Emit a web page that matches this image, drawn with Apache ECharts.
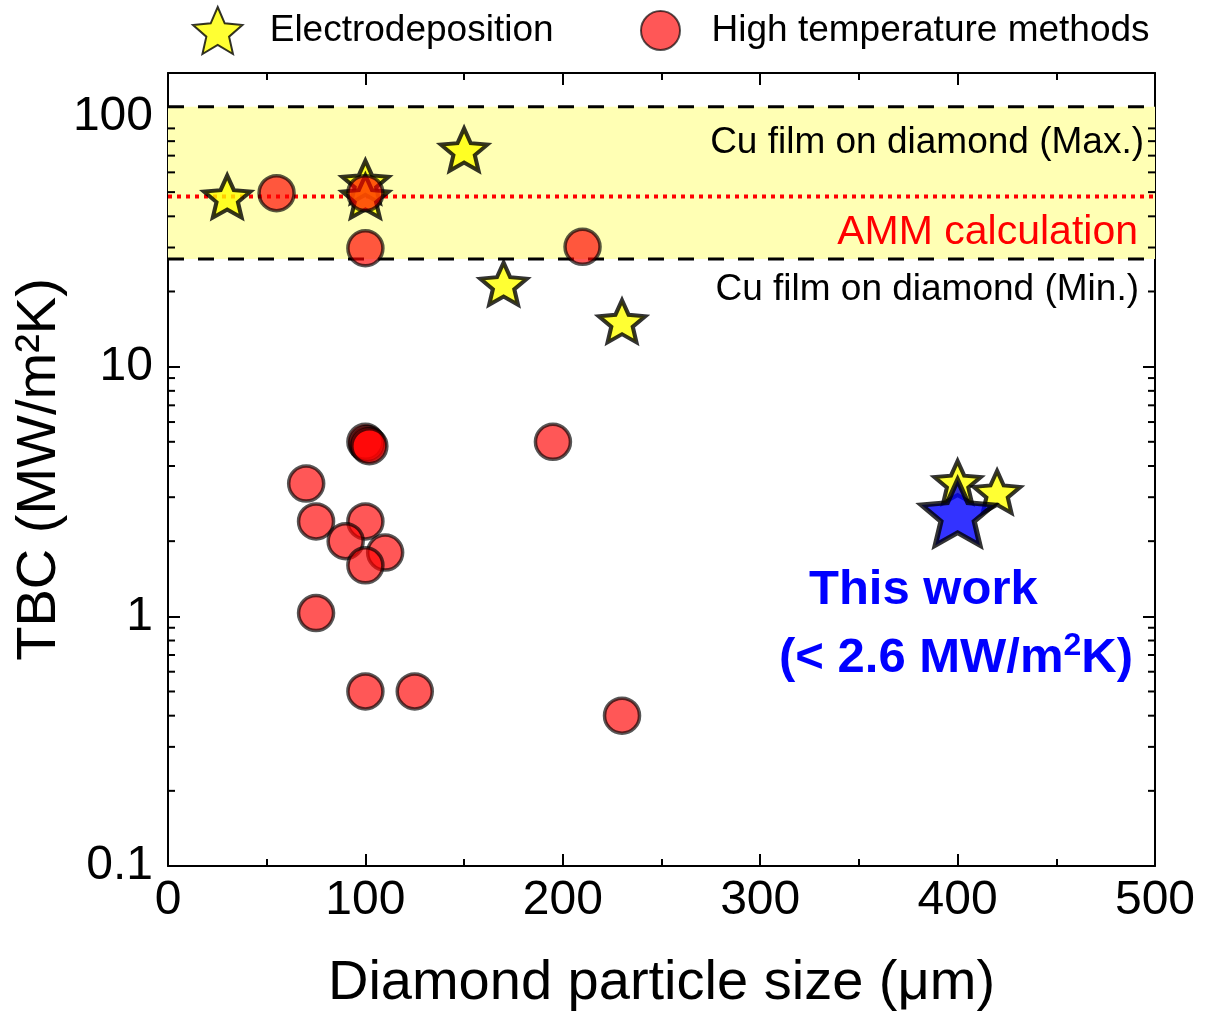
<!DOCTYPE html>
<html>
<head>
<meta charset="utf-8">
<script src="https://cdn.jsdelivr.net/npm/echarts@6/dist/echarts.min.js"></script>
<style>
html,body{margin:0;padding:0;background:#fff;}
#chart{width:1205px;height:1014px;}
</style>
</head>
<body>
<div id="chart"></div>
<script>
// ---------- data ----------
const electroX = [30, 100, 100, 150, 170, 230, 400, 420];
const electroY = [48, 55, 48, 74, 21.5, 15.2, 3.45, 3.15];

const highTempX = [55, 100, 100, 210, 100, 101, 102, 195, 70, 75, 100, 90, 110, 100, 75, 100, 125, 230];
const highTempY = [49.5, 49.5, 29.8, 30.2, 5.0, 4.9, 4.8, 5.0, 3.4, 2.4, 2.4, 2.0, 1.8, 1.6, 1.03, 0.5, 0.5, 0.4];

const thisWorkX = [400];
const thisWorkY = [2.6];

const bandMin = 27;      // Cu film on diamond (Min.)
const bandMax = 110;     // Cu film on diamond (Max.)
const ammValue = 48;     // AMM calculation

const xMin = 0, xMax = 500, xInterval = 100;
const yMin = 0.1, yMax = 150;
const yMinorTicks = [0.2,0.3,0.4,0.5,0.6,0.7,0.8,0.9, 2,3,4,5,6,7,8,9, 20,30,40,50,60,70,80,90];

const seriesNames = ['Electrodeposition', 'High temperature methods'];
const xTitle = 'Diamond particle size (μm)';
const yTitle = 'TBC (MW/m²K)';

// ---------- star symbol shapes (drawn at natural pixel size so the stroke is not scaled) ----------
function starPath(R, inner) {
  const pts = [];
  for (let i = 0; i < 10; i++) {
    const r = i % 2 === 0 ? R : R * inner;
    const a = -Math.PI / 2 + i * Math.PI / 5;
    pts.push((R + r * Math.cos(a)).toFixed(2) + ' ' + (R + r * Math.sin(a)).toFixed(2));
  }
  return 'path://M' + pts.join(' L') + ' Z';
}
const STAR_S = starPath(24.5, 0.46);
const STAR_L = starPath(38, 0.46);
const FONT = '"Liberation Sans", Arial, sans-serif';

const zip = (xs, ys) => xs.map((x, i) => [x, ys[i]]);

const chart = echarts.init(document.getElementById('chart'), null, {renderer: 'canvas'});

const axisCommon = {
  axisLine: {show: true, onZero: false, lineStyle: {color: '#000', width: 2}},
  axisTick: {show: true, inside: true, length: 12, lineStyle: {color: '#000', width: 2}},
  splitLine: {show: false}
};

const option = {
  animation: false,
  backgroundColor: '#fff',
  textStyle: {fontFamily: FONT},
  grid: {left: 168, right: 50, top: 73, bottom: 148, containLabel: false, outerBoundsMode: 'none'},
  legend: [
    {
      left: 187, top: 1,
      itemWidth: 50, itemHeight: 47,
      textStyle: {fontSize: 37, color: '#000', fontFamily: FONT, padding: [0, 0, 0, 22]},
      data: [{name: seriesNames[0], icon: STAR_S}]
    },
    {
      left: 635, top: 5,
      itemWidth: 40, itemHeight: 39,
      textStyle: {fontSize: 37, color: '#000', fontFamily: FONT, padding: [0, 0, 0, 26]},
      data: [{name: seriesNames[1], icon: 'circle'}]
    }
  ],
  xAxis: [
    Object.assign({}, axisCommon, {
      type: 'value', min: xMin, max: xMax, interval: xInterval, position: 'bottom',
      minorTick: {show: true, splitNumber: 2, length: 7, lineStyle: {color: '#000', width: 2}},
      axisLabel: {fontSize: 48, color: '#000', margin: 11, fontFamily: FONT},
      name: xTitle, nameLocation: 'middle', nameGap: 90, nameMoveOverlap: false,
      nameTextStyle: {fontSize: 56, color: '#000', fontFamily: FONT}
    }),
    Object.assign({}, axisCommon, {
      type: 'value', min: xMin, max: xMax, interval: xInterval, position: 'top',
      minorTick: {show: true, splitNumber: 2, length: 7, lineStyle: {color: '#000', width: 2}},
      axisLabel: {show: false}
    })
  ],
  yAxis: [
    Object.assign({}, axisCommon, {
      type: 'log', logBase: 10, min: yMin, max: yMax, position: 'left',
      axisLabel: {
        fontSize: 48, color: '#000', margin: 15, fontFamily: FONT,
        formatter: function (v) {
          const l = Math.log10(v);
          if (Math.abs(l - Math.round(l)) > 1e-6) return '';
          return l < 0 ? v.toFixed(-Math.round(l)) : String(Math.round(v));
        }
      },
      name: yTitle, nameLocation: 'middle', nameGap: 100, nameRotate: 90, nameMoveOverlap: false,
      nameTextStyle: {fontSize: 56, color: '#000', fontFamily: FONT}
    }),
    Object.assign({}, axisCommon, {
      type: 'log', logBase: 10, min: yMin, max: yMax, position: 'right',
      axisLabel: {show: false}
    })
  ],
  series: [
    {
      // shaded band, dashed limits, AMM line and their captions
      type: 'custom', name: 'band', z: 1, silent: true,
      xAxisIndex: 0, yAxisIndex: 0,
      data: [[bandMin, bandMax, ammValue]],
      renderItem: function (params, api) {
        const lo = api.value(0), hi = api.value(1), amm = api.value(2);
        const pLo = api.coord([xMin, lo]);
        const pHi = api.coord([xMin, hi]);
        const pAmm = api.coord([xMin, amm]);
        const right = api.coord([xMax, lo])[0];
        const left = pLo[0];
        const tx = right - 12;
        return {
          type: 'group',
          children: [
            {type: 'rect', shape: {x: left, y: pHi[1], width: right - left, height: pLo[1] - pHi[1]},
             style: {fill: '#ffffb4'}},
            {type: 'line', shape: {x1: left, y1: pHi[1], x2: right, y2: pHi[1]},
             style: {stroke: '#000', lineWidth: 3, lineDash: [16, 14]}},
            {type: 'line', shape: {x1: left, y1: pLo[1], x2: right, y2: pLo[1]},
             style: {stroke: '#000', lineWidth: 3, lineDash: [16, 14]}},
            {type: 'line', shape: {x1: left, y1: pAmm[1], x2: right, y2: pAmm[1]},
             style: {stroke: '#ff0000', lineWidth: 4, lineDash: [4, 5]}},
            {type: 'text', style: {text: 'Cu film on diamond (Max.)', x: tx + 1, y: pHi[1] + 36,
              align: 'right', verticalAlign: 'middle', fontSize: 37, fontFamily: FONT, fill: '#000'}},
            {type: 'text', style: {text: 'AMM calculation', x: tx - 5, y: pAmm[1] + 36,
              align: 'right', verticalAlign: 'middle', fontSize: 41, fontFamily: FONT, fill: '#ff0000'}},
            {type: 'text', style: {text: 'Cu film on diamond (Min.)', x: tx - 4, y: pLo[1] + 31,
              align: 'right', verticalAlign: 'middle', fontSize: 37, fontFamily: FONT, fill: '#000'}}
          ]
        };
      }
    },
    {
      // log-axis minor ticks (left and right frame)
      type: 'custom', name: 'minorTicks', z: 5, silent: true,
      xAxisIndex: 0, yAxisIndex: 0,
      data: yMinorTicks.map(v => [v]),
      encode: {y: 0},
      renderItem: function (params, api) {
        const v = api.value(0);
        const pl = api.coord([xMin, v]);
        const pr = api.coord([xMax, v]);
        return {
          type: 'group',
          children: [
            {type: 'line', shape: {x1: pl[0], y1: pl[1], x2: pl[0] + 7, y2: pl[1]}, style: {stroke: '#000', lineWidth: 2}},
            {type: 'line', shape: {x1: pr[0], y1: pr[1], x2: pr[0] - 7, y2: pr[1]}, style: {stroke: '#000', lineWidth: 2}}
          ]
        };
      }
    },
    {
      name: seriesNames[0], type: 'scatter', z: 3,
      symbol: STAR_S, symbolKeepAspect: true, symbolSize: [46.6, 44.3],
      itemStyle: {color: '#ffff00', borderColor: '#000', borderWidth: 4},
      data: zip(electroX, electroY)
    },
    {
      name: seriesNames[1], type: 'scatter', z: 4,
      symbol: 'circle', symbolSize: 35,
      itemStyle: {color: '#ff0000', borderColor: '#000', borderWidth: 3.5, opacity: 0.66},
      data: zip(highTempX, highTempY)
    },
    {
      name: 'This work', type: 'scatter', z: 6,
      symbol: STAR_L, symbolKeepAspect: true, symbolSize: [72.3, 68.7],
      itemStyle: {color: '#0000ff', borderColor: '#000', borderWidth: 5},
      data: zip(thisWorkX, thisWorkY)
    }
  ],
  graphic: [
    {type: 'text', left: 809, top: 566, z: 10,
     style: {text: 'This work', fontSize: 49, fontWeight: 'bold', fontFamily: FONT, fill: '#0000ff'}},
    {type: 'text', left: 779, top: 630, z: 10,
     style: {
       text: '{m|(< 2.6 MW/m}{s|2}{m|K)}',
       rich: {
         m: {fontSize: 49, fontWeight: 'bold', fontFamily: FONT, fill: '#0000ff', color: '#0000ff', lineHeight: 56},
         s: {fontSize: 32, fontWeight: 'bold', fontFamily: FONT, fill: '#0000ff', color: '#0000ff', verticalAlign: 'top', lineHeight: 56}
       }
     }}
  ]
};

chart.setOption(option);
</script>
</body>
</html>
